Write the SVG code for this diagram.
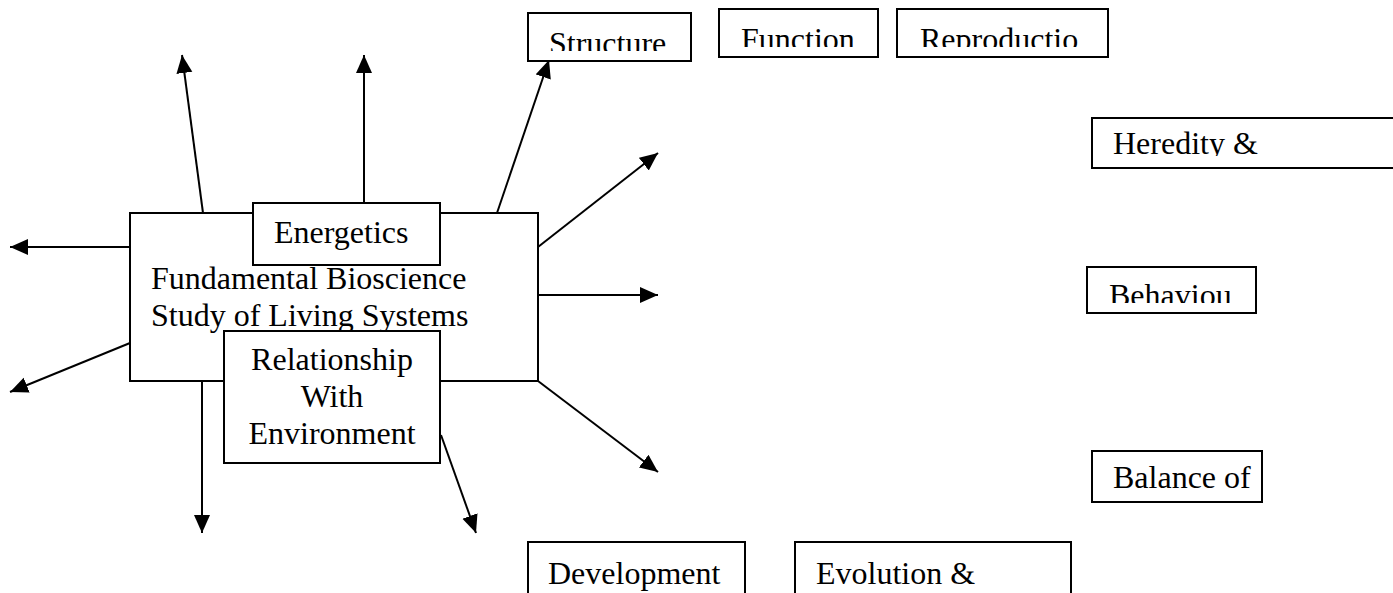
<svg xmlns="http://www.w3.org/2000/svg" width="1393" height="593" viewBox="0 0 1393 593">
<style>
.box{fill:#fff;stroke:#000;stroke-width:2}
.t{font-family:'Liberation Serif','Times New Roman',Times,serif;font-size:32px;fill:#000}
.c{stroke:#000;stroke-width:2;fill:none;marker-end:url(#ah)}
</style>
<defs>
<marker id="ah" markerUnits="userSpaceOnUse" markerWidth="19" markerHeight="17" refX="18" refY="8" orient="auto" viewBox="0 0 19 17">
<path d="M0,0 L18,8 L0,16 z" fill="#000"/>
</marker>
<clipPath id="cS"><rect x="528" y="13" width="163" height="38"/></clipPath>
<clipPath id="cF"><rect x="719" y="9" width="159" height="38"/></clipPath>
<clipPath id="cR"><rect x="897" y="9" width="211" height="38"/></clipPath>
<clipPath id="cH"><rect x="1092" y="118" width="301" height="38"/></clipPath>
<clipPath id="cB"><rect x="1087" y="267" width="169" height="36"/></clipPath>
</defs>
<rect width="1393" height="593" fill="#fff"/>
<g id="connectors">
<line class="c" x1="203" y1="213" x2="182" y2="55"/>
<line class="c" x1="364" y1="203" x2="364" y2="55"/>
<line class="c" x1="497" y1="213" x2="549" y2="60"/>
<line class="c" x1="538" y1="247" x2="658" y2="153"/>
<line class="c" x1="538" y1="295" x2="658" y2="295"/>
<line class="c" x1="538" y1="381" x2="658" y2="472"/>
<line class="c" x1="130" y1="247" x2="10" y2="247"/>
<line class="c" x1="130" y1="343" x2="10" y2="392"/>
<line class="c" x1="202" y1="381" x2="202" y2="533"/>
<line class="c" x1="441" y1="435" x2="476" y2="533"/>
</g>
<g id="main">
<rect class="box" x="130" y="213" width="408" height="168"/>
<text class="t" x="151" y="289">Fundamental Bioscience</text>
<text class="t" x="151" y="326">Study of Living Systems</text>
</g>
<g id="energetics">
<rect class="box" x="253" y="203" width="187" height="62"/>
<text class="t" x="274" y="243">Energetics</text>
</g>
<g id="relationship">
<rect class="box" x="224" y="331" width="216" height="132"/>
<text class="t" x="332" y="370" text-anchor="middle">Relationship</text>
<text class="t" x="332" y="407" text-anchor="middle">With</text>
<text class="t" x="332" y="444" text-anchor="middle">Environment</text>
</g>
<g id="structure">
<rect class="box" x="528" y="13" width="163" height="48"/>
<text class="t" x="549" y="54" clip-path="url(#cS)">Structure</text>
</g>
<g id="function">
<rect class="box" x="719" y="9" width="159" height="48"/>
<text class="t" x="741" y="50" clip-path="url(#cF)">Function</text>
</g>
<g id="reproduction">
<rect class="box" x="897" y="9" width="211" height="48"/>
<text class="t" x="920" y="50" clip-path="url(#cR)">Reproductio</text>
</g>
<g id="heredity">
<rect class="box" x="1092" y="118" width="310" height="50"/>
<text class="t" x="1113" y="154" clip-path="url(#cH)">Heredity &amp;</text>
</g>
<g id="behaviour">
<rect class="box" x="1087" y="267" width="169" height="46"/>
<text class="t" x="1109" y="306" clip-path="url(#cB)">Behaviou</text>
</g>
<g id="balance">
<rect class="box" x="1092" y="451" width="170" height="51"/>
<text class="t" x="1113" y="488">Balance of</text>
</g>
<g id="development">
<rect class="box" x="528" y="542" width="217" height="60"/>
<text class="t" x="548" y="584">Development</text>
</g>
<g id="evolution">
<rect class="box" x="795" y="542" width="276" height="60"/>
<text class="t" x="816" y="584">Evolution &amp;</text>
</g>
</svg>
